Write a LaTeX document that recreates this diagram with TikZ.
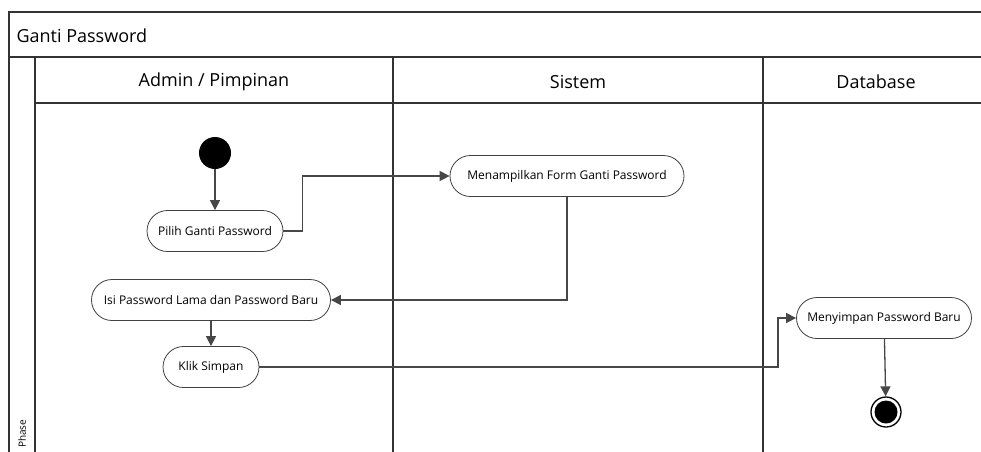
\documentclass[tikz,border=0pt]{standalone}
\usepackage{fontspec}
\setmainfont{Open Sans}
\usetikzlibrary{arrows.meta}
\begin{document}
\begin{tikzpicture}[x=1pt,y=-1pt,
  act/.style={draw=black!75, line width=0.8pt, rounded corners=20.5pt, minimum height=41pt, inner sep=0pt, font=\fontsize{12}{14}\selectfont},
  conn/.style={draw=black!72, line width=1.3pt, -{Triangle[length=10pt,width=10pt]}},
  frame/.style={draw=black!80, line width=1.1pt},
  head/.style={font=\fontsize{18}{21}\selectfont}]
\useasboundingbox (0,0) rectangle (981,451);
\clip (0,0) rectangle (981,451);
% frame
\draw[frame] (995,12) -- (9,12) -- (9,460);
\draw[frame] (9,57) -- (995,57);
\draw[frame] (35,57) -- (35,460);
\draw[frame] (35,103) -- (995,103);
\draw[frame] (393,57) -- (393,460);
\draw[frame] (763,57) -- (763,460);
\node[head, anchor=west] (title) at (13,36) {Ganti Password};
\node[head] (h1) at (214,82) {Admin / Pimpinan};
\node[head] (h2) at (578,82) {Sistem};
\node[head] (h3) at (876,82) {Database};
\node[rotate=90, anchor=west, inner sep=1pt, font=\fontsize{10}{12}\selectfont] (phase) at (22,449) {Phase};
% nodes
\node[circle, fill=black, minimum size=32pt, inner sep=0pt] (st) at (215,153) {};
\node[act, minimum width=136pt] (p) at (215,231) {Pilih Ganti Password};
\node[act, minimum width=234pt] (m) at (567,176) {Menampilkan Form Ganti Password};
\node[act, minimum width=239pt] (i) at (211,300) {Isi Password Lama dan Password Baru};
\node[act, minimum width=96pt] (k) at (211,367) {Klik Simpan};
\node[act, minimum width=175pt] (s) at (884,318) {Menyimpan Password Baru};
\node[circle, draw=black, line width=1.3pt, minimum size=30pt, inner sep=0pt,
  path picture={\fill[black] (path picture bounding box.center) circle (11.5pt);}] (en) at (886,412) {};
% connectors
\draw[conn] (st) -- (p);
\draw[conn] (p.east) -- ++(19,0) |- (m.west);
\draw[conn] (m.south) |- (i.east);
\draw[conn] (i) -- (k);
\draw[conn] (k.east) -| (778,318) -- (s.west);
\draw[conn] (s) -- (en);
\end{tikzpicture}
\end{document}
